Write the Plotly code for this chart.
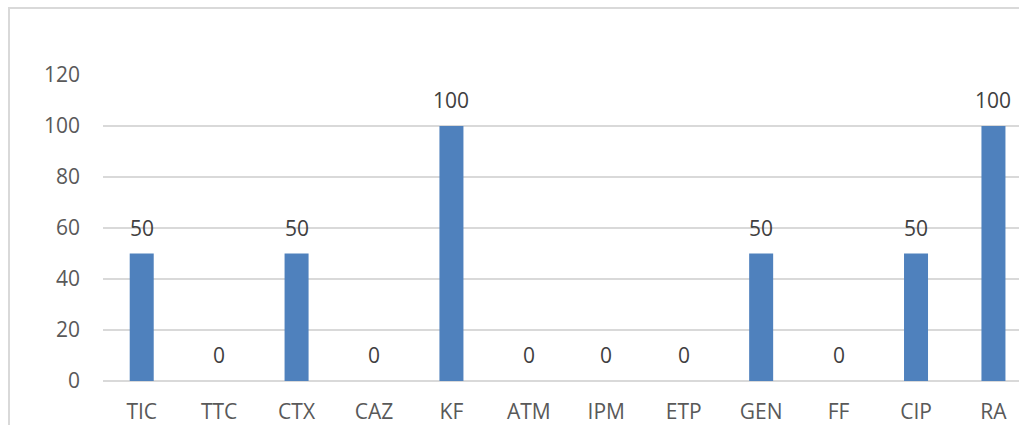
import plotly.graph_objects as go

# Antibiotic codes and resistance percentages
antibiotics = ["TIC", "TTC", "CTX", "CAZ", "KF", "ATM", "IPM", "ETP", "GEN", "FF", "CIP", "RA"]
percent = [50, 0, 50, 0, 100, 0, 0, 0, 50, 0, 50, 100]
y_ticks = [0, 20, 40, 60, 80, 100, 120]

W, H = 1019, 425
ML, MR, MT, MB = 103, 0, 75, 44
plot_w = W - ML - MR
plot_h = H - MT - MB

bar_color = "#4F81BD"
text_color = "#595959"
grid_color = "#D9D9D9"
font_family = "Open Sans, Liberation Sans, sans-serif"

fig = go.Figure()
fig.add_trace(go.Bar(
    x=antibiotics,
    y=percent,
    marker=dict(color=bar_color, line=dict(width=0)),
    width=0.31,
    hoverinfo="x+y",
))

# Value labels centred a little above each bar
for name, val in zip(antibiotics, percent):
    fig.add_annotation(
        x=name, y=val, text=str(val), showarrow=False,
        xref="x", yref="y", yanchor="middle", yshift=26,
        font=dict(family=font_family, size=21, color="#404040"),
    )

# Thin outer chart frame (left and top edges visible in the window)
bx0 = (9 - ML) / plot_w
by1 = 1 + (MT - 8) / plot_h
fig.add_shape(
    type="rect", xref="paper", yref="paper",
    x0=bx0, x1=1 + 40 / plot_w, y0=-0.5, y1=by1,
    line=dict(color="#D9D9D9", width=2), fillcolor="rgba(0,0,0,0)",
    layer="below",
)

fig.update_layout(
    width=W, height=H,
    margin=dict(l=ML, r=MR, t=MT, b=MB, autoexpand=False),
    plot_bgcolor="white", paper_bgcolor="white",
    showlegend=False,
    bargap=0.69,
    font=dict(family=font_family, size=21, color=text_color),
    xaxis=dict(
        type="category",
        categoryorder="array", categoryarray=antibiotics,
        range=[-0.5, 11.33],
        showgrid=False, zeroline=False, showline=False,
        ticks="", ticklabelstandoff=16,
        tickfont=dict(family=font_family, size=21, color=text_color),
        automargin=False, fixedrange=True,
    ),
    yaxis=dict(
        range=[0, 120],
        tickvals=y_ticks,
        showgrid=True, gridcolor=grid_color, gridwidth=1.5,
        zeroline=True, zerolinecolor=grid_color, zerolinewidth=1.5,
        showline=False, ticks="", ticklabelstandoff=22,
        tickfont=dict(family=font_family, size=21, color=text_color),
        automargin=False, fixedrange=True,
    ),
)

fig.write_html("out.html")
